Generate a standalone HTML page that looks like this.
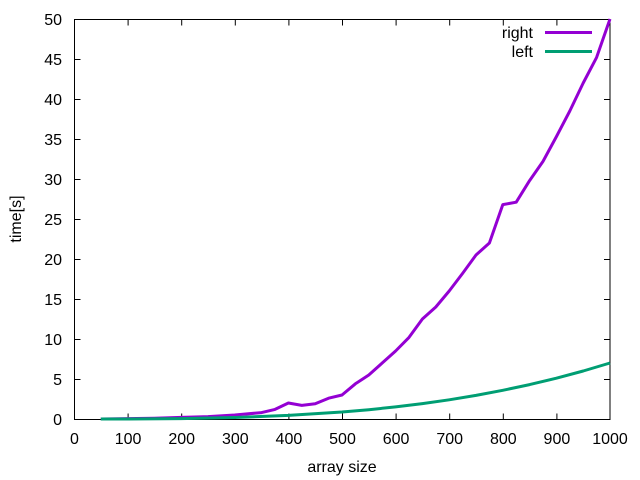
<!DOCTYPE html>
<html><head><style>body{margin:0;background:#fff}svg{display:block}text{font-family:"Liberation Sans",sans-serif;font-size:16px;fill:#000}</style></head><body>
<svg width="640" height="480" xmlns="http://www.w3.org/2000/svg">
<rect x="74.5" y="19.5" width="535.5" height="400" fill="none" stroke="#000" stroke-width="1"/>
<g stroke="#000" stroke-width="1">
<path d="M128.1 419.5v-6M181.7 419.5v-6M235.3 419.5v-6M288.9 419.5v-6M342.5 419.5v-6M396.1 419.5v-6M449.7 419.5v-6M503.3 419.5v-6M556.9 419.5v-6M128.1 19.5v6M181.7 19.5v6M235.3 19.5v6M288.9 19.5v6M342.5 19.5v6M396.1 19.5v6M449.7 19.5v6M503.3 19.5v6M556.9 19.5v6"/>
<path d="M74.5 379.5h6M74.5 339.5h6M74.5 299.5h6M74.5 259.5h6M74.5 219.5h6M74.5 179.5h6M74.5 139.5h6M74.5 99.5h6M74.5 59.5h6M610 379.5h-6M610 339.5h-6M610 299.5h-6M610 259.5h-6M610 219.5h-6M610 179.5h-6M610 139.5h-6M610 99.5h-6M610 59.5h-6"/>
</g>
<g text-anchor="end">
<text x="62" y="425">0</text><text x="62" y="385">5</text><text x="62" y="345">10</text><text x="62" y="305">15</text><text x="62" y="265">20</text><text x="62" y="225">25</text><text x="62" y="185">30</text><text x="62" y="145">35</text><text x="62" y="105">40</text><text x="62" y="65">45</text><text x="62" y="25">50</text>
</g>
<g text-anchor="middle">
<text x="74.5" y="444">0</text><text x="128.1" y="444">100</text><text x="181.7" y="444">200</text><text x="235.3" y="444">300</text><text x="288.9" y="444">400</text><text x="342.5" y="444">500</text><text x="396.1" y="444">600</text><text x="449.7" y="444">700</text><text x="503.3" y="444">800</text><text x="556.9" y="444">900</text><text x="610" y="444">1000</text>
<text x="342" y="472">array size</text>
<text transform="translate(21,219) rotate(-90)">time[s]</text>
</g>
<polyline fill="none" stroke="#9400d3" stroke-width="3" stroke-linejoin="round" points="100.8,419 127.6,418.6 154.4,418.2 181.2,417.4 208,416.6 234.8,415 261.6,412.6 275,409.4 288.4,403 301.8,405.4 315.2,403.8 328.6,398.2 342,395 355.4,383.8 368.8,375 382.2,363 395.6,351 409,337.4 422.4,319 435.8,307 449.2,291 462.6,273.4 476,255 489.4,243 502.8,204.6 516.2,202.2 529.6,180.6 543,161.4 556.4,136.6 569.8,111 583.2,83 596.6,57.4 610,19"/>
<polyline fill="none" stroke="#009e73" stroke-width="3" stroke-linejoin="round" points="100.8,419 127.6,419 181.2,418.6 234.8,417.5 288.4,415.4 342,412 368.8,409.7 395.6,406.9 422.4,403.6 449.2,399.8 476,395.4 502.8,390.3 529.6,384.6 556.4,378.2 583.2,371 610,363"/>
<text x="533" y="38" text-anchor="end">right</text>
<line x1="545" y1="32.5" x2="592" y2="32.5" stroke="#9400d3" stroke-width="3"/>
<text x="533" y="57" text-anchor="end">left</text>
<line x1="545" y1="51.5" x2="592" y2="51.5" stroke="#009e73" stroke-width="3"/>
</svg>
</body></html>
